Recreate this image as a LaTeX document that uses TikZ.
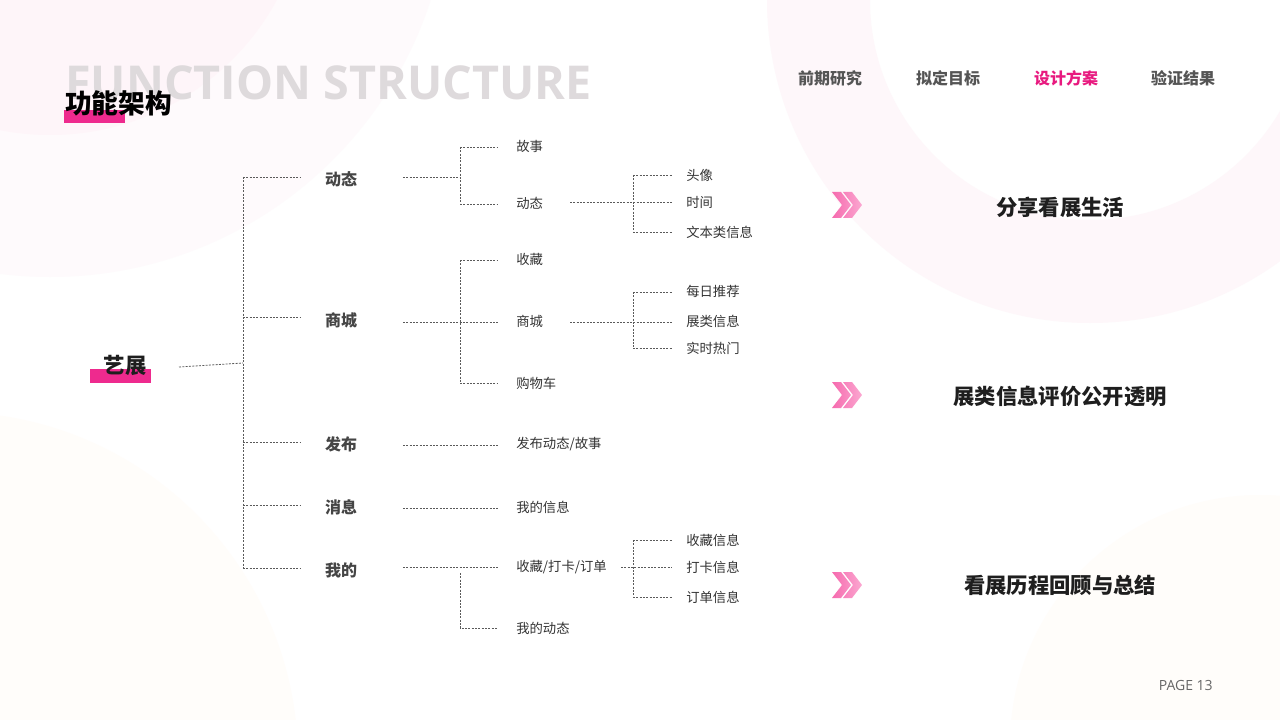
\documentclass[tikz,border=0pt]{standalone}
\usepackage{fontspec}
\setmainfont{Open Sans}
\newfontfamily\cjk{Noto Sans CJK SC}
\newfontfamily\titlefont{Open Sans}
\definecolor{pinkbar}{HTML}{EE2A8E}
\definecolor{navpink}{HTML}{E8197F}
\definecolor{titlegray}{HTML}{DEDADC}
\definecolor{navgray}{HTML}{555555}
\definecolor{lvone}{HTML}{454545}
\definecolor{lvtwo}{HTML}{333333}
\definecolor{dark}{HTML}{1E1E1E}
\definecolor{linegray}{HTML}{5A5A5A}
\definecolor{pagegray}{HTML}{666666}
\definecolor{bgpinkA}{HTML}{FEF5F9}
\definecolor{bgpinkB}{HTML}{FEFAFC}
\definecolor{bgring}{HTML}{FEF7FA}
\definecolor{bgcream}{HTML}{FFFDFA}
\definecolor{chevA}{HTML}{F66AAE}
\definecolor{chevB}{HTML}{FBA8D1}
\tikzset{
  dl/.style={draw=linegray, line width=0.6pt, dash pattern=on 1.5pt off 1pt},
  lvonebox/.style={font=\cjk\bfseries\fontsize{12}{14}\selectfont, text=lvone, inner sep=0pt},
  lvtwobox/.style={font=\cjk\fontsize{10}{12}\selectfont, text=lvtwo, anchor=west, inner sep=0pt},
  navbox/.style={font=\cjk\bfseries\fontsize{12}{14}\selectfont, text=navgray, inner sep=0pt},
  goalbox/.style={font=\cjk\bfseries\fontsize{16}{19}\selectfont, text=dark, inner sep=0pt},
  chev/.style={left color=chevA, right color=chevB},
}
\begin{document}
\begin{tikzpicture}[x=0.75pt, y=-0.75pt]
% background
\fill[white] (0,0) rectangle (1280,720);
\useasboundingbox (0,0) rectangle (1280,720);
\begin{scope}
\clip (0,0) rectangle (1280,720);
\fill[bgpinkB] (50,-123) circle (400);
\fill[bgpinkA] (50,-123) circle (258);
\fill[bgring, even odd rule] (1090,0) circle (323) (1090,0) circle (220);
\fill[bgcream] (-50,760) circle (348);
\fill[bgcream] (1260,745) circle (250);
\end{scope}

% header
\node[font=\titlefont\bfseries\fontsize{35}{40}\selectfont, text=titlegray, anchor=base west, inner sep=0pt] (entitle) at (65,100) {FUNCTION STRUCTURE};
\fill[pinkbar] (64,110) rectangle (125,123);
\node[font=\cjk\bfseries\fontsize{20}{24}\selectfont, text=black, anchor=west, inner sep=0pt] (cntitle) at (65,103) {功能架构};

\node[navbox] (nav1) at (830,78) {前期研究};
\node[navbox] (nav2) at (948,78) {拟定目标};
\node[navbox, text=navpink] (nav3) at (1066,78) {设计方案};
\node[navbox] (nav4) at (1183,78) {验证结果};

% root
\fill[pinkbar] (90,369) rectangle (151,383);
\node[font=\cjk\bfseries\fontsize{16}{19}\selectfont, text=dark, inner sep=0pt] (root) at (125,365) {艺展};

% level 1
\node[lvonebox] (a1) at (341,179) {动态};
\node[lvonebox] (a2) at (341,320) {商城};
\node[lvonebox] (a3) at (341,444) {发布};
\node[lvonebox] (a4) at (341,507) {消息};
\node[lvonebox] (a5) at (341,570) {我的};

% level 2
\node[lvtwobox] (b11) at (516,146) {故事};
\node[lvtwobox] (b12) at (516,203) {动态};
\node[lvtwobox] (b21) at (516,259) {收藏};
\node[lvtwobox] (b22) at (516,321) {商城};
\node[lvtwobox] (b23) at (516,383) {购物车};
\node[lvtwobox] (b31) at (516,444) {发布动态/故事};
\node[lvtwobox] (b41) at (516,507) {我的信息};
\node[lvtwobox] (b51) at (516,567) {收藏/打卡/订单};
\node[lvtwobox] (b52) at (516,628) {我的动态};

% level 3
\node[lvtwobox] (c1) at (686,175) {头像};
\node[lvtwobox] (c2) at (686,202) {时间};
\node[lvtwobox] (c3) at (686,232) {文本类信息};
\node[lvtwobox] (c4) at (686,291) {每日推荐};
\node[lvtwobox] (c5) at (686,321) {展类信息};
\node[lvtwobox] (c6) at (686,348) {实时热门};
\node[lvtwobox] (c7) at (686,540) {收藏信息};
\node[lvtwobox] (c8) at (686,567) {打卡信息};
\node[lvtwobox] (c9) at (686,597) {订单信息};

% coordinates for connectors
\coordinate (rootout) at (179,367);
\coordinate (trunk) at (243,363);
\coordinate (trtop) at (243,177);
\coordinate (trbot) at (243,568);
\coordinate (a1in) at (300,177);
\coordinate (a2in) at (300,317);
\coordinate (a3in) at (300,442);
\coordinate (a4in) at (300,505);
\coordinate (a5in) at (300,568);
\coordinate (a1out) at (403,177);
\coordinate (a2out) at (403,322);
\coordinate (a3out) at (403,445);
\coordinate (a4out) at (403,508);
\coordinate (a5out) at (403,567);
\coordinate (ja1) at (460,177);
\coordinate (ja2) at (460,322);
\coordinate (ja5) at (460,573);
\coordinate (b11in) at (498,147);
\coordinate (b12in) at (498,204);
\coordinate (b21in) at (498,260);
\coordinate (b22in) at (498,322);
\coordinate (b23in) at (498,383);
\coordinate (b31in) at (498,445);
\coordinate (b41in) at (498,508);
\coordinate (b51in) at (498,567);
\coordinate (b52in) at (498,628);
\coordinate (b12out) at (570,202);
\coordinate (b22out) at (570,322);
\coordinate (b51out) at (621,567);
\coordinate (jb12) at (633,202);
\coordinate (jb22) at (633,322);
\coordinate (jb51) at (633,567);
\coordinate (c1in) at (672,175);
\coordinate (c2in) at (672,202);
\coordinate (c3in) at (672,232);
\coordinate (c4in) at (672,292);
\coordinate (c5in) at (672,322);
\coordinate (c6in) at (672,348);
\coordinate (c7in) at (672,540);
\coordinate (c8in) at (672,567);
\coordinate (c9in) at (672,597);

% connectors
\draw[dl] (rootout) -- (trunk);
\draw[dl] (trtop) -- (trbot);
\draw[dl] (trtop) -- (a1in);
\draw[dl] (trunk |- a2in) -- (a2in);
\draw[dl] (trunk |- a3in) -- (a3in);
\draw[dl] (trunk |- a4in) -- (a4in);
\draw[dl] (trbot) -- (a5in);

\draw[dl] (a1out) -- (ja1);
\draw[dl] (ja1 |- b11in) -- (ja1 |- b12in);
\draw[dl] (ja1 |- b11in) -- (b11in);
\draw[dl] (ja1 |- b12in) -- (b12in);

\draw[dl] (a2out) -- (b22in);
\draw[dl] (ja2 |- b21in) -- (ja2 |- b23in);
\draw[dl] (ja2 |- b21in) -- (b21in);
\draw[dl] (ja2 |- b23in) -- (b23in);

\draw[dl] (a3out) -- (b31in);
\draw[dl] (a4out) -- (b41in);
\draw[dl] (a5out) -- (b51in);
\draw[dl] (ja5) |- (b52in);

\draw[dl] (b12out) -- (c2in);
\draw[dl] (jb12 |- c1in) -- (jb12 |- c3in);
\draw[dl] (jb12 |- c1in) -- (c1in);
\draw[dl] (jb12 |- c3in) -- (c3in);

\draw[dl] (b22out) -- (c5in);
\draw[dl] (jb22 |- c4in) -- (jb22 |- c6in);
\draw[dl] (jb22 |- c4in) -- (c4in);
\draw[dl] (jb22 |- c6in) -- (c6in);

\draw[dl] (b51out) -- (c8in);
\draw[dl] (jb51 |- c7in) -- (jb51 |- c9in);
\draw[dl] (jb51 |- c7in) -- (c7in);
\draw[dl] (jb51 |- c9in) -- (c9in);

% chevrons and goals
\foreach \yy in {205,395,585} {
  \shade[chev] (832,\yy-13) -- (841,\yy-13) -- (851,\yy) -- (841,\yy+13) -- (832,\yy+13) -- (842,\yy) -- cycle
               (843,\yy-13) -- (852,\yy-13) -- (862,\yy) -- (852,\yy+13) -- (843,\yy+13) -- (853,\yy) -- cycle;
}
\node[goalbox] (g1) at (1060,207) {分享看展生活};
\node[goalbox] (g2) at (1060,396) {展类信息评价公开透明};
\node[goalbox] (g3) at (1060,585) {看展历程回顾与总结};

\node[font=\fontsize{10.5}{12}\selectfont, text=pagegray, anchor=base east, inner sep=0pt] (page) at (1213,690) {PAGE 13};
\end{tikzpicture}
\end{document}
